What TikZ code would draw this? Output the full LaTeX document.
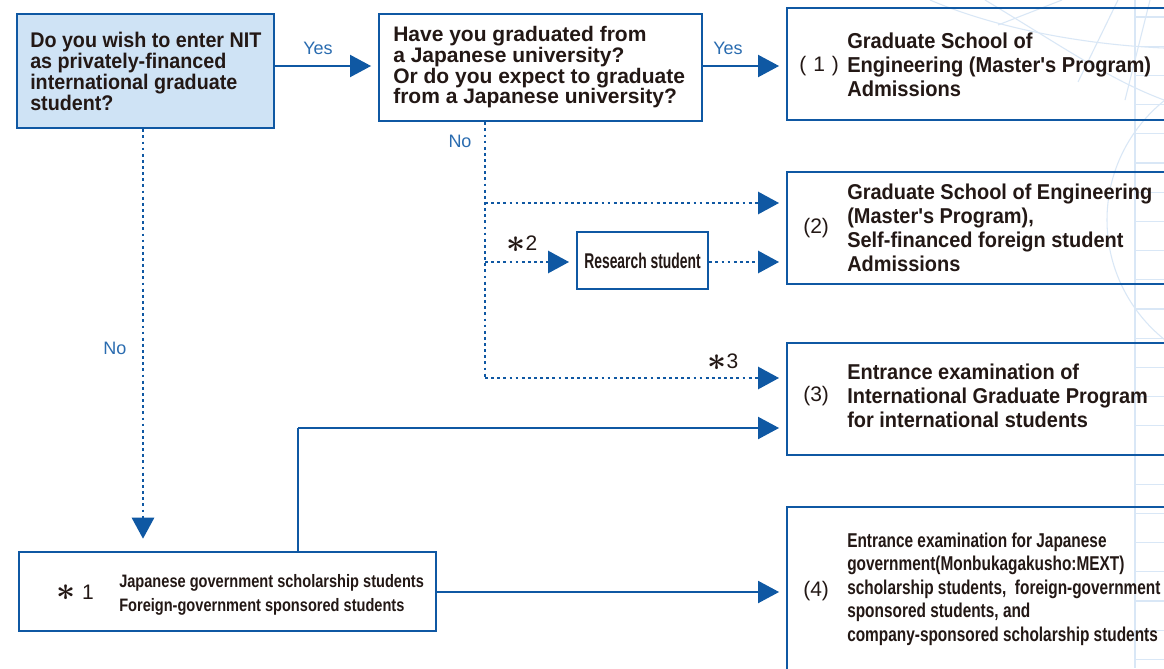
\documentclass[tikz,border=0pt]{standalone}
\usepackage{fontspec}
\setmainfont{Liberation Sans}
\newfontfamily\fA{Liberation Sans}[FakeStretch=0.93]
\newfontfamily\fB{Liberation Sans}
\newfontfamily\fC{Liberation Sans}[FakeStretch=0.77]
\newfontfamily\fD{Liberation Sans}[FakeStretch=0.81]
\newfontfamily\fE{Liberation Sans}[FakeStretch=0.65]
\usetikzlibrary{arrows.meta,fit}
\definecolor{lc}{HTML}{0F58A3}
\definecolor{qfill}{HTML}{CFE3F5}
\definecolor{tc}{HTML}{231815}
\definecolor{labc}{HTML}{2A6CB0}
\definecolor{bgc}{HTML}{D9E7F6}
\tikzset{
  box/.style={draw=lc, line width=1.9pt, inner sep=0pt},
  qbox/.style={box, fill=qfill},
  txt/.style={inner sep=0pt, align=left, text=tc, anchor=west},
  conn/.style={draw=lc, line width=1.5pt, -{Triangle[length=15.75pt,width=16.5pt]}, shorten >=5pt},
  plainc/.style={draw=lc, line width=1.5pt},
  dotc/.style={conn, line width=2.1pt, dash pattern=on 2.1pt off 2.5pt},
  dotp/.style={draw=lc, line width=2.1pt, dash pattern=on 2.1pt off 2.5pt},
  lab/.style={text=labc, inner sep=0pt, font=\fB\fontsize{13.5}{13.5}\selectfont},
  numl/.style={text=tc, inner sep=0pt, anchor=west, font=\fB\fontsize{15.75}{15.75}\selectfont},
  star/.style={text=tc, inner sep=0pt, font=\fB\fontsize{15.75}{15.75}\selectfont},
  bgl/.style={draw=bgc, line width=0.8pt},
}
\newcommand{\bigast}{\raisebox{-1pt}{\fontsize{26}{26}\selectfont\boldmath$\ast$}}
\begin{document}
\begin{tikzpicture}[x=0.75pt,y=-0.75pt]
\useasboundingbox (0,0) rectangle (1164,668);
\clip (0,0) rectangle (1164,668);
\fill[white] (0,0) rectangle (1164,668);
% background decoration
\draw[bgl] (1135,0) -- (1135,668);
\foreach \k in {0,...,22} {\draw[bgl] (1135,17+29.2*\k) -- (1164,17+29.2*\k);}
\draw[bgl] (1260,220) circle [radius=114.75pt];
\draw[bgl] (985,0) .. controls (1060,45) and (1110,80) .. (1164,100);
\draw[bgl] (998,25) -- (1062,0);
\draw[bgl] (1078,82) -- (1118,0);
\draw[bgl] (1125,100) -- (1150,0);
\draw[bgl] (930,0) .. controls (1000,30) and (1090,45) .. (1164,48);
% boxes
\node[qbox, fit={(17,14) (274,128)}] (qa) {};
\node[box, fit={(379,14) (702,121)}] (qb) {};
\node[box, fit={(787,8) (1200,120)}] (b1) {};
\node[box, fit={(787,172) (1200,284)}] (b2) {};
\node[box, fit={(787,343) (1200,455)}] (b3) {};
\node[box, fit={(787,507) (1200,720)}] (b4) {};
\node[box, fit={(577,232) (708,289)}] (rs) {};
\node[box, fit={(19,552) (436,631)}] (s1) {};
% texts
\node[txt, font=\fA\bfseries\fontsize{15.9}{15.75}\selectfont] (qat) at (30,71.5)
  {Do you wish to enter NIT\\as privately-financed\\international graduate\\student?};
\node[txt, font=\fB\bfseries\fontsize{15.75}{15.5}\selectfont] (qbt) at (393,67.5)
  {Have you graduated from\\a Japanese university?\\Or do you expect to graduate\\from a Japanese university?};
\node[txt, font=\fA\bfseries\fontsize{16.2}{18}\selectfont] (b1t) at (847,65)
  {Graduate School of\\Engineering (Master's Program)\\Admissions};
\node[txt, font=\fA\bfseries\fontsize{16.1}{18}\selectfont] (b2t) at (847,228)
  {Graduate School of Engineering\\(Master's Program),\\Self-financed foreign student\\Admissions};
\node[txt, font=\fA\bfseries\fontsize{16.1}{18}\selectfont] (b3t) at (847,396)
  {Entrance examination of\\International Graduate Program\\for international students};
\node[txt, font=\fC\bfseries\fontsize{15}{17.6}\selectfont] (b4t) at (847,589)
  {Entrance examination for Japanese\\government(Monbukagakusho:MEXT)\\scholarship students,\ \ foreign-government\\sponsored students, and\\company-sponsored scholarship students};
\node[txt, font=\fD\bfseries\fontsize{13.5}{18}\selectfont] (s1t) at (119,594.5)
  {Japanese government scholarship students\\Foreign-government sponsored students};
\node[text=tc, inner sep=0pt, font=\fE\bfseries\fontsize{16}{16}\selectfont] (rst) at (rs.center) {Research student};
\node[numl] (n1) at (799,66) {(\,\,1\,\,)};
\node[numl] (n2) at (803,228) {(2)};
\node[numl] (n3) at (803,396) {(3)};
\node[numl] (n4) at (803,591) {(4)};
\node[star] (st1) at (75,593) {\bigast\,\,1};
\node[star] (st2) at (522,244) {\bigast2};
\node[star] (st3) at (723,362) {\bigast3};
% labels
\node[lab] (y1) at (318,48) {Yes};
\node[lab] (y2) at (728,48) {Yes};
\node[lab] (no1) at (115,348) {No};
\node[lab] (no2) at (460,141) {No};
% connectors
\draw[conn] (qa.east |- 0,66) -- (qb.west |- 0,66);
\draw[conn] (qb.east |- 0,66) -- (b1.west |- 0,66);
\draw[dotc, shorten >=9pt] (qa.south -| 143,0) -- (s1.north -| 143,0);
\coordinate (j1) at (485,203);
\coordinate (j2) at (485,262);
\coordinate (j3) at (485,378);
\draw[dotp] (qb.south -| j3) -- (j3);
\draw[dotc] (j3) -- (b3.west |- j3);
\draw[dotc] (j1) -- (b2.west |- j1);
\draw[dotc] (j2) -- (rs.west |- j2);
\draw[dotc] (rs.east |- j2) -- (b2.west |- j2);
\coordinate (k1) at (298,428);
\draw[plainc] (s1.north -| k1) -- (k1);
\draw[conn] (k1) -- (b3.west |- k1);
\draw[conn] (s1.east |- 0,592) -- (b4.west |- 0,592);
\end{tikzpicture}
\end{document}
